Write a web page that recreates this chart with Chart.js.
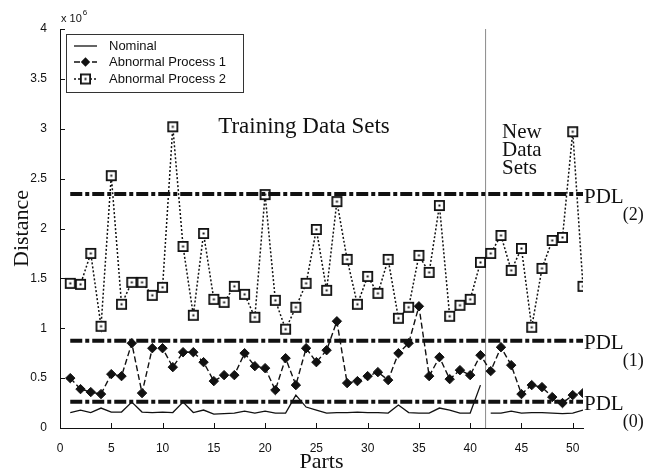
<!DOCTYPE html>
<html><head><meta charset="utf-8">
<script src="https://cdn.jsdelivr.net/npm/chart.js@4/dist/chart.umd.min.js"></script>
<style>html,body{margin:0;padding:0;background:#fff;}canvas{display:block;}</style>
</head><body>
<canvas id="c" width="647" height="476"></canvas>
<script>
// ---- data (values in units of 10^6) ----
const parts = [1,2,3,4,5,6,7,8,9,10,11,12,13,14,15,16,17,18,19,20,21,22,23,24,25,26,27,28,29,30,31,32,33,34,35,36,37,38,39,40,41,42,43,44,45,46,47,48,49,50,51];
const nominal = [0.155,0.18,0.155,0.20,0.16,0.16,0.26,0.16,0.155,0.16,
                 0.155,0.26,0.155,0.18,0.14,0.145,0.15,0.17,0.15,0.17,
                 0.15,0.15,0.33,0.21,0.18,0.15,0.155,0.155,0.16,0.155,
                 0.155,0.15,0.23,0.155,0.15,0.15,0.20,0.18,0.15,0.15,
                 0.43,0.15,0.15,0.17,0.15,0.155,0.155,0.15,0.145,0.15,0.18];
const abnormal1 = [0.50,0.39,0.36,0.34,0.54,0.52,0.85,0.35,0.80,0.80,
                   0.61,0.76,0.76,0.66,0.47,0.53,0.53,0.75,0.62,0.60,
                   0.38,0.70,0.43,0.80,0.66,0.78,1.07,0.45,0.47,0.52,
                   0.56,0.48,0.75,0.85,1.22,0.52,0.71,0.49,0.58,0.53,
                   0.73,0.57,0.81,0.63,0.34,0.43,0.41,0.31,0.25,0.33,0.35];
const abnormal2 = [1.45,1.44,1.75,1.02,2.53,1.24,1.46,1.46,1.33,1.41,
                   3.02,1.82,1.13,1.95,1.29,1.26,1.42,1.34,1.11,2.34,
                   1.28,0.99,1.21,1.45,1.99,1.38,2.27,1.69,1.24,1.52,
                   1.35,1.69,1.10,1.21,1.73,1.56,2.23,1.12,1.23,1.29,
                   1.66,1.75,1.93,1.58,1.80,1.01,1.60,1.88,1.91,2.97,1.42];
const seriesNames = ['Nominal','Abnormal Process 1','Abnormal Process 2'];
const pdlLevels = [0.264, 0.875, 2.346];
const pdlSubs = ['(0)','(1)','(2)'];
const pdlSpan = [1, 51];
const newDataStart = 41.5;
const xTicks = [0,5,10,15,20,25,30,35,40,45,50];
const yTicks = [0,0.5,1,1.5,2,2.5,3,3.5,4];

// ---- helpers ----
const INK = '#111';
function squareMarker(){
  const c=document.createElement('canvas'); c.width=13; c.height=13;
  const g=c.getContext('2d');
  g.fillStyle='#fff'; g.fillRect(1,1,11,11);
  g.strokeStyle=INK; g.lineWidth=1.8; g.strokeRect(1.9,1.9,9.2,9.2);
  g.fillStyle=INK; g.fillRect(5.5,5.5,2,2);
  return c;
}
const sqImg = squareMarker();
const toXY = (vals) => parts.map((p,i)=>({x:p,y:vals[i]}));
const nominalData = [];
parts.forEach((p,i)=>{ nominalData.push({x:p,y:nominal[i]}); if (p < newDataStart && parts[i+1] > newDataStart) nominalData.push({x:newDataStart,y:null}); });

const datasets = [
  {label:seriesNames[0], data:nominalData, borderColor:INK, borderWidth:1.3, pointRadius:0, spanGaps:false, order:1},
  {label:seriesNames[1], data:toXY(abnormal1), borderColor:INK, borderWidth:1.4, borderDash:[6,3],
   pointStyle:'rectRot', pointRadius:4.7, pointBackgroundColor:INK, pointBorderColor:INK, pointBorderWidth:1, order:2},
  {label:seriesNames[2], data:toXY(abnormal2), borderColor:INK, borderWidth:1.5, borderDash:[2,2],
   pointStyle:sqImg, pointRadius:6.5, order:3},
];
pdlLevels.forEach((lv)=>{
  datasets.push({label:'PDL', data:pdlSpan.map(x=>({x:x,y:lv})), borderColor:INK, borderWidth:4,
    borderDash:[12,3,4,3], pointRadius:0, order:0});
});
datasets.push({label:'split', data:[{x:newDataStart,y:yTicks[0]},{x:newDataStart,y:yTicks[yTicks.length-1]}],
  borderColor:'#8a8a8a', borderWidth:1, pointRadius:0, order:5});

// ---- annotation plugin ----
const annot = {
  id:'annot',
  afterDraw(chart){
    const ctx=chart.ctx, xs=chart.scales.x, ys=chart.scales.y, ca=chart.chartArea;
    ctx.save();
    // inward tick marks
    ctx.strokeStyle=INK; ctx.lineWidth=1; ctx.setLineDash([]);
    xTicks.forEach(v=>{const px=Math.round(xs.getPixelForValue(v))+0.5; ctx.beginPath(); ctx.moveTo(px,ca.bottom); ctx.lineTo(px,ca.bottom-5); ctx.stroke();});
    yTicks.forEach(v=>{const py=Math.round(ys.getPixelForValue(v))+0.5; ctx.beginPath(); ctx.moveTo(ca.left,py); ctx.lineTo(ca.left+5,py); ctx.stroke();});
    // exponent
    ctx.fillStyle=INK; ctx.textBaseline='alphabetic'; ctx.textAlign='left';
    ctx.font='11px "Liberation Sans", Arial, sans-serif';
    ctx.fillText('x 10', ca.left+1, 22);
    const w=ctx.measureText('x 10').width;
    ctx.font='8px "Liberation Sans", Arial, sans-serif';
    ctx.fillText('6', ca.left+1+w+1, 15);
    // region texts
    ctx.font='23px "Liberation Serif", "Times New Roman", serif';
    ctx.textAlign='center'; ctx.textBaseline='middle';
    ctx.fillText('Training Data Sets', 304, 127);
    ctx.font='21px "Liberation Serif", "Times New Roman", serif';
    ctx.textAlign='left';
    ['New','Data','Sets'].forEach((t,i)=>ctx.fillText(t, 502, 132+i*18));
    // PDL labels
    pdlLevels.forEach((lv,i)=>{
      const py=ys.getPixelForValue(lv);
      ctx.font='21px "Liberation Serif", "Times New Roman", serif';
      ctx.textBaseline='middle';
      ctx.fillText('PDL', ca.right+1, py+3);
      const pw=ctx.measureText('PDL').width;
      ctx.font='18px "Liberation Serif", "Times New Roman", serif';
      ctx.fillText(pdlSubs[i], ca.right+pw, py+21);
    });
    // legend box
    const bx=66, by=34, bw=177, bh=58;
    ctx.fillStyle='#fff'; ctx.fillRect(bx,by,bw,bh);
    ctx.strokeStyle='#333'; ctx.lineWidth=1; ctx.strokeRect(bx+0.5,by+0.5,bw,bh);
    const rows=[46,62,79];
    rows.forEach((ry,i)=>{
      const ds=chart.data.datasets[i];
      ctx.strokeStyle=ds.borderColor; ctx.lineWidth=ds.borderWidth; ctx.setLineDash(ds.borderDash||[]);
      ctx.beginPath(); ctx.moveTo(74,ry); ctx.lineTo(97,ry); ctx.stroke();
      ctx.setLineDash([]);
      if (ds.pointStyle==='rectRot'){
        const r=ds.pointRadius; ctx.fillStyle=INK; ctx.beginPath();
        ctx.moveTo(85.5,ry-r); ctx.lineTo(85.5+r,ry); ctx.lineTo(85.5,ry+r); ctx.lineTo(85.5-r,ry); ctx.closePath(); ctx.fill();
      } else if (ds.pointStyle instanceof HTMLCanvasElement){
        ctx.drawImage(ds.pointStyle, 85.5-6.5, ry-6.5);
      }
      ctx.fillStyle=INK; ctx.font='13px "Liberation Sans", Arial, sans-serif';
      ctx.textAlign='left'; ctx.textBaseline='middle';
      ctx.fillText(ds.label, 109, ry);
    });
    ctx.restore();
  }
};

new Chart(document.getElementById('c'), {
  type:'line',
  data:{datasets:datasets},
  options:{
    responsive:false, animation:false, devicePixelRatio:1,
    layout:{padding:{left:0,top:29,right:64,bottom:0}},
    plugins:{legend:{display:false}, tooltip:{enabled:false}},
    scales:{
      x:{type:'linear', min:xTicks[0], max:parts[parts.length-1],
        grid:{display:false}, border:{display:true,color:INK,width:1},
        ticks:{color:INK, font:{family:'"Liberation Sans", Arial, sans-serif', size:12}, padding:5, autoSkip:false, maxRotation:0, includeBounds:false, callback:v=>String(v)},
        afterBuildTicks:s=>{s.ticks=xTicks.map(v=>({value:v}));},
        afterFit:s=>{s.height=48;},
        title:{display:true, text:'Parts', color:INK, font:{family:'"Liberation Serif", "Times New Roman", serif', size:22}, padding:{top:0,bottom:1}}
      },
      y:{type:'linear', min:yTicks[0], max:yTicks[yTicks.length-1],
        grid:{display:false}, border:{display:true,color:INK,width:1},
        ticks:{color:INK, font:{family:'"Liberation Sans", Arial, sans-serif', size:12}, padding:5, autoSkip:false, callback:v=>String(v)},
        afterBuildTicks:s=>{s.ticks=yTicks.map(v=>({value:v}));},
        afterFit:s=>{s.width=60;},
        title:{display:true, text:'Distance', color:INK, font:{family:'"Liberation Serif", "Times New Roman", serif', size:22}, padding:{top:9,bottom:0}}
      }
    }
  },
  plugins:[annot]
});
</script>
</body></html>
